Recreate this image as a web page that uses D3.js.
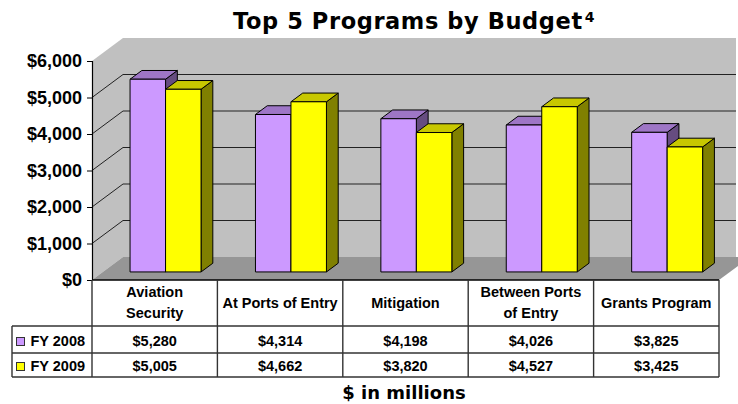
<!DOCTYPE html>
<html>
<head>
<meta charset="utf-8">
<script src="https://cdn.jsdelivr.net/npm/d3@7"></script>
<style>
  body { margin: 0; background: #fff; }
  svg { display: block; }
</style>
</head>
<body>
<div id="chart"></div>
<script>
// Chart data
const categories = ["Aviation Security", "At Ports of Entry", "Mitigation", "Between Ports of Entry", "Grants Program"]
const categoryLines = [["Aviation", "Security"], ["At Ports of Entry"], ["Mitigation"], ["Between Ports", "of Entry"], ["Grants Program"]]
const seriesNames = ["FY 2008", "FY 2009"]
const fy2008 = [5280, 4314, 4198, 4026, 3825]
const fy2009 = [5005, 4662, 3820, 4527, 3425]
const yTicks = [0, 1000, 2000, 3000, 4000, 5000, 6000]

drawChart("#chart")

function drawChart(container) {
    const WIDTH = 738
    const HEIGHT = 404
    const PLOT = {LEFT:92, RIGHT:719, TOP:61, BOTTOM:280}
    const DEPTH = {X:31, Y:-23}          // oblique offset of the back wall
    const WALL_RIGHT = 736
    const BAR_FRONT = 0.35, BAR_BACK = 0.73 // bar position inside the depth
    const TABLE = {LEFT:12, HEAD:326, ROW1:353, BOTTOM:377}
    const FONT = "'Liberation Sans', Arial, sans-serif"
    const TITLE_FONT = "'DejaVu Sans', Verdana, sans-serif"

    const seriesValues = [fy2008, fy2009]
    const colours = [
        {face:"#CC99FF", top:"#9E76C6", side:"#664C80"},
        {face:"#FFFF00", top:"#C8C800", side:"#808000"}
    ]

    const svg = d3.select(container).append("svg")
        .attr("width", WIDTH)
        .attr("height", HEIGHT)

    // Scales
    const xScale = d3.scaleBand()
        .domain(categories)
        .range([PLOT.LEFT, PLOT.RIGHT])
        .paddingInner(0.434)
        .paddingOuter(0.217)

    const sScale = d3.scaleBand()
        .domain(seriesNames)
        .range([0, xScale.bandwidth()])

    const yScale = d3.scaleLinear()
        .domain([0, 6000])
        .range([PLOT.BOTTOM, PLOT.TOP])

    const pt = (x, y, d) => [x + DEPTH.X * d, y + DEPTH.Y * d]

    // Walls and floor
    const back = svg.append("g")
    back.append("polygon")
        .attr("points", [pt(PLOT.LEFT, yScale(6000), 1), [WALL_RIGHT, yScale(6000) + DEPTH.Y],
                         [WALL_RIGHT, PLOT.BOTTOM + DEPTH.Y], pt(PLOT.LEFT, PLOT.BOTTOM, 1)].join(" "))
        .attr("fill", "#C0C0C0")
    back.append("polygon")
        .attr("points", [[PLOT.LEFT, yScale(6000)], pt(PLOT.LEFT, yScale(6000), 1),
                         pt(PLOT.LEFT, PLOT.BOTTOM, 1), [PLOT.LEFT, PLOT.BOTTOM]].join(" "))
        .attr("fill", "#C0C0C0")
    back.append("polygon")
        .attr("points", [[PLOT.LEFT, PLOT.BOTTOM], pt(PLOT.LEFT, PLOT.BOTTOM, 1),
                         pt(PLOT.RIGHT, PLOT.BOTTOM, 1), [PLOT.RIGHT, PLOT.BOTTOM]].join(" "))
        .attr("fill", "#969696")

    // Gridlines on side wall and back wall
    const grid = yTicks.filter(d => d > 0 && d < 6000)
    back.selectAll(".side-grid")
        .data(grid)
        .join("line")
            .attr("x1", PLOT.LEFT)
            .attr("y1", d => yScale(d))
            .attr("x2", PLOT.LEFT + DEPTH.X)
            .attr("y2", d => yScale(d) + DEPTH.Y)
            .attr("stroke", "#222")
            .attr("stroke-width", 1)
    back.selectAll(".back-grid")
        .data(grid)
        .join("line")
            .attr("x1", PLOT.LEFT + DEPTH.X)
            .attr("y1", d => yScale(d) + DEPTH.Y)
            .attr("x2", WALL_RIGHT)
            .attr("y2", d => yScale(d) + DEPTH.Y)
            .attr("stroke", "#222")
            .attr("stroke-width", 1)

    // Bars
    const bw = sScale.bandwidth()
    const bars = svg.append("g")
        .attr("stroke", "#000")
        .attr("stroke-width", 1)
        .attr("stroke-linejoin", "round")
    categories.forEach((cat, i) => {
        seriesNames.forEach((s, j) => {
            const v = seriesValues[j][i]
            const x0 = xScale(cat) + sScale(s)
            const x1 = x0 + bw
            const yt = yScale(v)
            const y0 = yScale(0)
            const c = colours[j]
            // side
            bars.append("polygon")
                .attr("points", [pt(x1, yt, BAR_FRONT), pt(x1, yt, BAR_BACK),
                                 pt(x1, y0, BAR_BACK), pt(x1, y0, BAR_FRONT)].join(" "))
                .attr("fill", c.side)
            // top
            bars.append("polygon")
                .attr("points", [pt(x0, yt, BAR_FRONT), pt(x0, yt, BAR_BACK),
                                 pt(x1, yt, BAR_BACK), pt(x1, yt, BAR_FRONT)].join(" "))
                .attr("fill", c.top)
            // front
            const [fx, fy] = pt(x0, yt, BAR_FRONT)
            bars.append("rect")
                .attr("x", fx)
                .attr("y", fy)
                .attr("width", bw)
                .attr("height", y0 - yt)
                .attr("fill", c.face)
        })
    })

    // Y axis
    const yAxis = svg.append("g")
        .attr("transform", "translate(" + PLOT.LEFT + ",0)")
        .call(d3.axisLeft(yScale).tickValues(yTicks).tickFormat(d3.format("$,")).tickSize(5).tickPadding(5))
    yAxis.select(".domain").attr("stroke", "#000").attr("stroke-width", 1.2)
    yAxis.selectAll(".tick line").attr("stroke", "#000")
    yAxis.selectAll(".tick text")
        .attr("font-family", FONT)
        .attr("font-weight", "bold")
        .attr("font-size", 18)
        .attr("fill", "#000")

    // Data table
    const table = svg.append("g")
    table.append("rect")
        .attr("x", PLOT.LEFT).attr("y", PLOT.BOTTOM)
        .attr("width", PLOT.RIGHT - PLOT.LEFT).attr("height", TABLE.HEAD - PLOT.BOTTOM)
        .attr("fill", "#fff")
    table.append("rect")
        .attr("x", TABLE.LEFT).attr("y", TABLE.HEAD)
        .attr("width", PLOT.RIGHT - TABLE.LEFT).attr("height", TABLE.BOTTOM - TABLE.HEAD)
        .attr("fill", "#fff")

    const lineStyle = sel => sel.attr("stroke", "#333").attr("stroke-width", 1.4)
    table.append("line").attr("x1", PLOT.LEFT).attr("x2", PLOT.RIGHT)
        .attr("y1", PLOT.BOTTOM).attr("y2", PLOT.BOTTOM).call(lineStyle).attr("stroke", "#000")
    ;[TABLE.HEAD, TABLE.ROW1, TABLE.BOTTOM].forEach(y => {
        table.append("line").attr("x1", TABLE.LEFT).attr("x2", PLOT.RIGHT)
            .attr("y1", y).attr("y2", y).call(lineStyle)
    })
    const colEdges = categories.map(c => xScale(c) - xScale.step() * xScale.paddingInner() / 2)
    colEdges.push(PLOT.RIGHT)
    colEdges.forEach(x => {
        table.append("line").attr("x1", x).attr("x2", x)
            .attr("y1", PLOT.BOTTOM).attr("y2", TABLE.BOTTOM).call(lineStyle)
    })
    table.append("line").attr("x1", TABLE.LEFT).attr("x2", TABLE.LEFT)
        .attr("y1", TABLE.HEAD).attr("y2", TABLE.BOTTOM).call(lineStyle)

    // Header labels
    categories.forEach((cat, i) => {
        const cx = xScale(cat) + xScale.bandwidth() / 2
        const lines = categoryLines[i]
        const t = table.append("text")
            .attr("text-anchor", "middle")
            .attr("font-family", FONT)
            .attr("font-weight", "bold")
            .attr("font-size", 14.5)
        lines.forEach((ln, k) => {
            const base = lines.length == 1 ? 308 : 297 + k * 20.5
            t.append("tspan").attr("x", cx).attr("y", base).text(ln)
        })
    })

    // Value rows and legend keys
    const fmt = d3.format("$,")
    const rowBase = [346, 371]
    seriesNames.forEach((s, j) => {
        table.append("rect")
            .attr("x", 16.5).attr("y", rowBase[j] - 8.5)
            .attr("width", 8).attr("height", 8)
            .attr("fill", colours[j].face)
            .attr("stroke", "#333").attr("stroke-width", 1)
        table.append("text")
            .attr("x", 30.5).attr("y", rowBase[j])
            .attr("font-family", FONT).attr("font-weight", "bold").attr("font-size", 14.5)
            .text(s)
        categories.forEach((cat, i) => {
            table.append("text")
                .attr("x", xScale(cat) + xScale.bandwidth() / 2)
                .attr("y", rowBase[j])
                .attr("text-anchor", "middle")
                .attr("font-family", FONT).attr("font-weight", "bold").attr("font-size", 14.5)
                .text(fmt(seriesValues[j][i]))
        })
    })

    // Title (with superscript note) and axis note
    const title = svg.append("text")
        .attr("x", 233).attr("y", 29)
        .attr("font-family", TITLE_FONT).attr("font-weight", "bold").attr("font-size", 22.5)
        .attr("letter-spacing", 0.6)
    title.append("tspan").text("Top 5 Programs by Budget")
    title.append("tspan")
        .attr("dx", 2).attr("dy", -7)
        .attr("font-size", 14)
        .attr("letter-spacing", 0)
        .text("4")

    svg.append("text")
        .attr("x", 404).attr("y", 399)
        .attr("text-anchor", "middle")
        .attr("font-family", TITLE_FONT).attr("font-weight", "bold").attr("font-size", 18)
        .text("$ in millions")
}
</script>
</body>
</html>
